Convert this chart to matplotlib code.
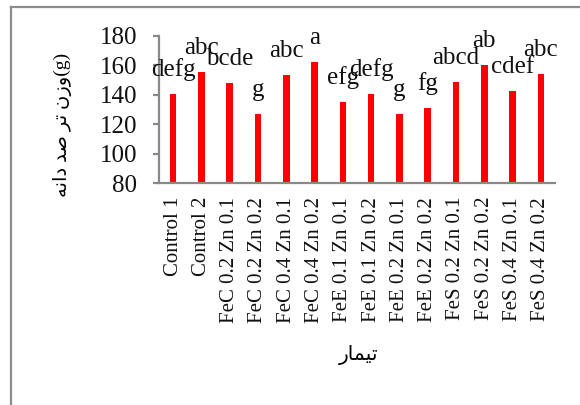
import matplotlib.pyplot as plt
from matplotlib.lines import Line2D
import numpy as np

plt.rcParams['font.family'] = ['Liberation Serif', 'DejaVu Sans']

treatments = ['Control 1', 'Control 2',
              'FeC 0.2 Zn 0.1', 'FeC 0.2 Zn 0.2', 'FeC 0.4 Zn 0.1', 'FeC 0.4 Zn 0.2',
              'FeE 0.1 Zn 0.1', 'FeE 0.1 Zn 0.2', 'FeE 0.2 Zn 0.1', 'FeE 0.2 Zn 0.2',
              'FeS 0.2 Zn 0.1', 'FeS 0.2 Zn 0.2', 'FeS 0.4 Zn 0.1', 'FeS 0.4 Zn 0.2']
seed_weight = [140.3, 155.2, 148.1, 127.1, 153.3, 162.0, 134.9,
               140.3, 127.1, 130.8, 149.0, 160.4, 142.8, 154.2]
groups = ['defg', 'abc', 'bcde', 'g', 'abc', 'a', 'efg',
          'defg', 'g', 'fg', 'abcd', 'ab', 'cdef', 'abc']

# Persian labels in presentation forms, visual (left-to-right) order
ylabel_fa = '\ufeea\ufee7\ufe8d\ufea9 \ufeaa\ufebb \ufeae\ufe97 \ufee5\ufeaf\ufeed(g)'
xlabel_fa = '\ufead\ufe8e\ufee4\ufef4\ufe97'

axis_gray = '#898989'

fig = plt.figure(figsize=(5.8, 4.05), dpi=100)
ax = fig.add_axes([159 / 580, 1 - 183 / 405, 396 / 580, 147 / 405])

x = np.arange(len(treatments))
ax.bar(x, seed_weight, width=0.23, color='#ff0000', zorder=2)
for xi, v, g in zip(x, seed_weight, groups):
    ax.annotate(g, (xi, v), xytext=(0, 13), textcoords='offset points',
                ha='center', va='baseline', fontsize=18, color='#111111')

ax.set_xlim(-0.5, len(treatments) - 0.5)
ax.set_ylim(80, 180)
ax.set_yticks(range(80, 181, 20))
ax.set_xticks(x)
ax.set_xticklabels(treatments, rotation=90, fontsize=15)

for pos in ['right', 'top']:
    ax.spines[pos].set_visible(False)
for pos in ['left', 'bottom']:
    ax.spines[pos].set_color(axis_gray)
    ax.spines[pos].set_linewidth(1.6)

ax.tick_params(axis='y', length=4.5, width=1.6, color=axis_gray, pad=11,
               labelsize=18, labelcolor='#111111')
ax.tick_params(axis='x', length=0, pad=10, labelcolor='#111111')

fig.text(63 / 580, 1 - 125 / 405, ylabel_fa, rotation=90, ha='center',
         va='center', fontsize=14)
fig.text(359 / 580, 1 - 355 / 405, xlabel_fa, ha='center', va='center',
         fontsize=14.5)

# chart frame: only the top and left edges fall inside the image
fig.add_artist(Line2D([11 / 580, 11 / 580], [0, 1 - 7 / 405],
                      transform=fig.transFigure, color='#8c8c8c', lw=1.6))
fig.add_artist(Line2D([11 / 580, 1], [1 - 7 / 405, 1 - 7 / 405],
                      transform=fig.transFigure, color='#8c8c8c', lw=1.6))

fig.savefig('out.png', dpi=100)
